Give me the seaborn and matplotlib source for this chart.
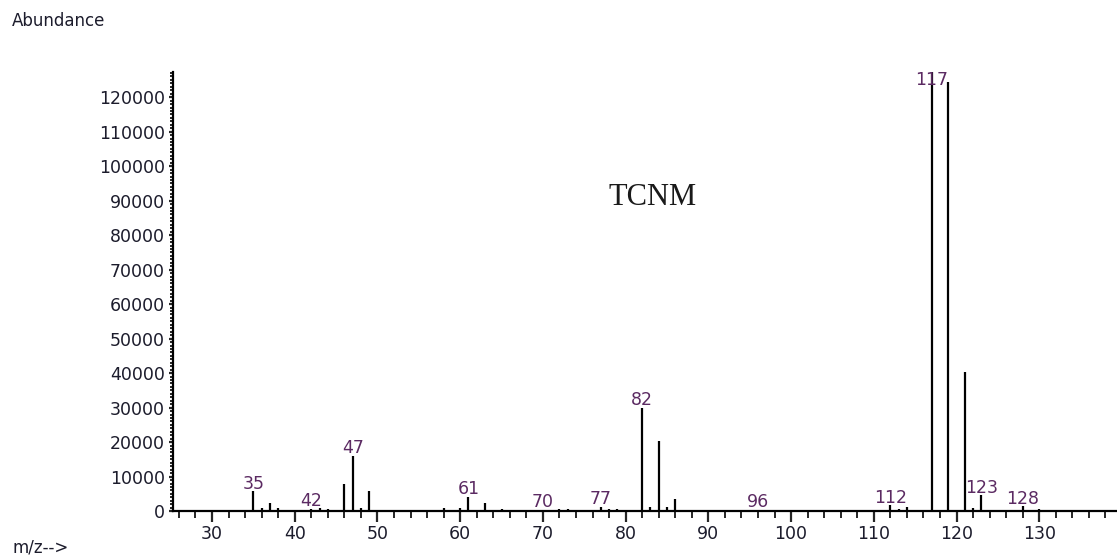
import matplotlib
matplotlib.use('Agg')
import matplotlib.pyplot as plt
import matplotlib.ticker as mtick
import seaborn as sns

# Mass spectrum of TCNM.
mz = [35, 36, 37, 38, 42, 43, 44, 46, 47, 48, 49,
      58, 60, 61, 63, 65, 70, 72, 73, 77, 78, 79,
      82, 83, 84, 85, 86, 96,
      112, 113, 114, 117, 119, 121, 122, 123, 128, 130]
abundance = [5800, 900, 2300, 800, 700, 900, 700, 8000, 16100, 800, 5800,
             800, 800, 4100, 2400, 600, 300, 500, 600, 1200, 600, 500,
             30000, 1200, 20300, 1200, 3600, 400,
             1700, 500, 1300, 128000, 124400, 40300, 800, 4600, 1400, 600]
labelled = [35, 42, 47, 61, 70, 77, 82, 96, 112, 117, 123, 128]

xlim = (25.3, 139.4)
ylim = (0, 127300)

sns.set_style('ticks')
plt.rcParams['font.family'] = ['DejaVu Sans']

fig = plt.figure(figsize=(11.17, 5.58), dpi=100)
ax = fig.add_axes([0.155, 0.084, 0.845, 0.787])

ax.vlines(mz, 0, abundance, color='black', lw=1.6)

ax.set_xlim(*xlim)
ax.set_ylim(*ylim)

ax.xaxis.set_major_locator(mtick.MultipleLocator(10))
ax.xaxis.set_minor_locator(mtick.MultipleLocator(2))
ax.yaxis.set_major_locator(mtick.MultipleLocator(10000))
ax.yaxis.set_minor_locator(mtick.MultipleLocator(1000))

sns.despine(ax=ax)
for side in ['left', 'bottom']:
    ax.spines[side].set_linewidth(1.6)
    ax.spines[side].set_color('black')

tick_color = '#1c1c2c'
fs = 12.5
ax.tick_params(axis='x', which='major', length=8, width=1.6, direction='out',
               pad=2, labelsize=fs, labelcolor=tick_color)
ax.tick_params(axis='x', which='minor', length=5, width=1.4, direction='out')
ax.tick_params(axis='y', which='major', length=3, width=1.6, direction='out',
               pad=3, labelsize=fs, labelcolor=tick_color)
ax.tick_params(axis='y', which='minor', length=2, width=1.4, direction='out')

# Peak labels.
peak_color = '#5b2a62'
for m, a in zip(mz, abundance):
    if m not in labelled:
        continue
    if a >= ylim[1]:
        ax.annotate(str(m), (m, ylim[1]), xytext=(0, 1), textcoords='offset points',
                    ha='center', va='top', fontsize=fs, color=peak_color,
                    annotation_clip=False)
    else:
        ax.annotate(str(m), (m, a), xytext=(0, -1), textcoords='offset points',
                    ha='center', va='bottom', fontsize=fs, color=peak_color)

ax.text(83.3, 91000, 'TCNM', fontsize=22, family='Liberation Serif',
        color='#1a1a1a', ha='center', va='center')

fig.text(0.011, 0.962, 'Abundance', fontsize=12, color=tick_color,
         ha='left', va='center')
fig.text(0.011, 0.018, 'm/z-->', fontsize=12, color=tick_color,
         ha='left', va='center')

fig.savefig('out.png', dpi=100)
